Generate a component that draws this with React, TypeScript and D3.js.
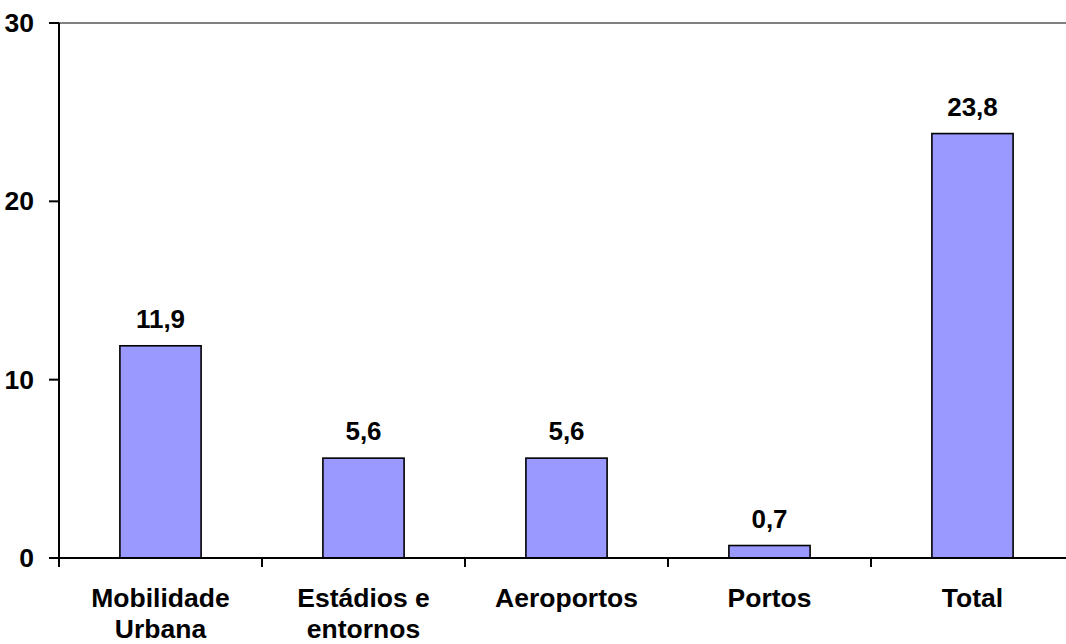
import React from "react";
import * as d3 from "d3";

const categories: string[][] = [
  ["Mobilidade", "Urbana"],
  ["Estádios e", "entornos"],
  ["Aeroportos"],
  ["Portos"],
  ["Total"],
];
const values: number[] = [11.9, 5.6, 5.6, 0.7, 23.8];
const yTicks: number[] = [0, 10, 20, 30];

const W = 1066;
const H = 644;
const left = 59;
const right = 1074;
const top = 23;
const bottom = 558;
const font = "'Liberation Sans', Arial, Helvetica, sans-serif";

export default function App() {
  const keys = categories.map((c) => c.join(" "));
  const x = d3.scaleBand<string>().domain(keys).range([left, right]).padding(0);
  const y = d3.scaleLinear().domain([0, 30]).range([bottom, top]);
  const bw = x.bandwidth() * 0.4;
  const fmt = (v: number) => v.toFixed(1).replace(".", ",");

  return (
    <svg
      width={W}
      height={H}
      style={{ position: "absolute", left: 0, top: 0, background: "#fff" }}
      fontFamily={font}
      fontWeight="bold"
    >
      {/* plot area border */}
      <line x1={left} x2={right} y1={y(30)} y2={y(30)} stroke="#808080" strokeWidth={2} />
      <line x1={right} x2={right} y1={y(30)} y2={y(0)} stroke="#808080" strokeWidth={2} />

      {/* bars */}
      {values.map((v, i) => {
        const cx = (x(keys[i]) as number) + x.bandwidth() / 2;
        return (
          <g key={keys[i]}>
            <rect
              x={cx - bw / 2}
              y={y(v)}
              width={bw}
              height={y(0) - y(v)}
              fill="#9999FF"
              stroke="#000"
              strokeWidth={1.6}
            />
            <text x={cx} y={y(v) - 18} textAnchor="middle" fontSize={26} fill="#000">
              {fmt(v)}
            </text>
          </g>
        );
      })}

      {/* y axis */}
      <line x1={left} x2={left} y1={y(30)} y2={y(0) + 1} stroke="#000" strokeWidth={2} />
      {yTicks.map((t) => (
        <g key={t}>
          <line x1={left - 10} x2={left} y1={y(t)} y2={y(t)} stroke="#000" strokeWidth={2} />
          <text
            x={34}
            y={y(t)}
            textAnchor="end"
            dominantBaseline="central"
            fontSize={26.5}
            fill="#000"
          >
            {t}
          </text>
        </g>
      ))}

      {/* x axis */}
      <line x1={left - 1} x2={right} y1={y(0)} y2={y(0)} stroke="#000" strokeWidth={2} />
      {keys.map((k) => (
        <line
          key={"tk" + k}
          x1={x(k) as number}
          x2={x(k) as number}
          y1={y(0)}
          y2={y(0) + 9}
          stroke="#000"
          strokeWidth={2}
        />
      ))}
      <line x1={right} x2={right} y1={y(0)} y2={y(0) + 9} stroke="#000" strokeWidth={2} />
      {categories.map((lines, i) => {
        const cx = (x(keys[i]) as number) + x.bandwidth() / 2;
        return (
          <text key={"lb" + i} x={cx} textAnchor="middle" fontSize={26.5} fill="#000">
            {lines.map((ln, j) => (
              <tspan key={j} x={cx} y={607 + j * 31}>
                {ln}
              </tspan>
            ))}
          </text>
        );
      })}
    </svg>
  );
}
